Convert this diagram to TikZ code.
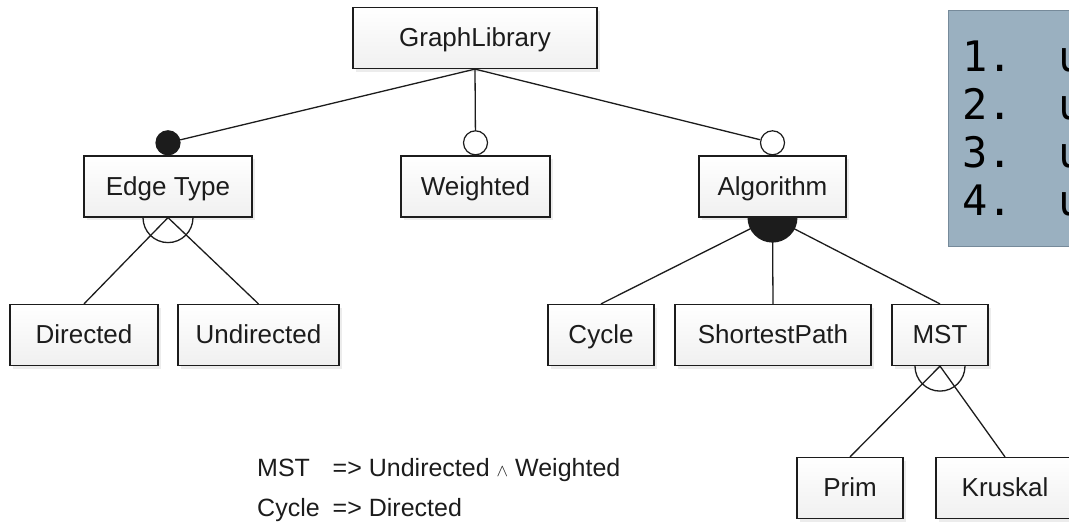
\documentclass[tikz,border=0pt]{standalone}
\usepackage{fontspec}
\setmainfont{Liberation Sans}
\newfontfamily\notefont{DejaVu Sans Mono}
\usepackage{tikz}
\usetikzlibrary{
  positioning,
  shadows
}
\definecolor{fmline}{RGB}{28,28,28}
\definecolor{notefill}{RGB}{154,176,192}
\definecolor{noteedge}{RGB}{118,138,154}
\tikzset{
  feature/.style={
    rectangle, draw=fmline, line width=1.2pt,
    top color=white, bottom color=gray!12,
    minimum height=61pt, inner sep=0pt,
    text height=17pt, text depth=0pt,
    font=\fontsize{26}{30}\selectfont, text=fmline,
    drop shadow={opacity=0.15, shadow xshift=3pt, shadow yshift=-3pt}
  },
  link/.style={line width=1.3pt, draw=fmline},
  mandatory/.style={
    circle, draw=fmline, line width=1.2pt, fill=fmline,
    minimum size=24pt, inner sep=0pt
  },
  optional/.style={mandatory, fill=white}
}

\begin{document}
\begin{tikzpicture}[
  x=1pt, y=-1pt,
  notebox/.style={rectangle, draw=noteedge, line width=1pt, fill=notefill,
                  minimum height=236pt, text width=140pt, inner xsep=14pt,
                  align=left, font=\notefont\fontsize{42}{48}\selectfont},
  rule/.style={font=\fontsize{25}{40}\selectfont, text=fmline, inner sep=0pt}
]
\useasboundingbox (0,0) rectangle (1069,522);
\clip (0,0) rectangle (1069,522);

% features
\node[feature, minimum width=244pt] (graphlib)  at (475,38)    {GraphLibrary};
\node[feature, minimum width=168pt] (edgetype)  at (168,186.5) {Edge Type};
\node[feature, minimum width=149pt] (weighted)  at (475.5,186.5) {Weighted};
\node[feature, minimum width=147pt] (algorithm) at (772.5,186.5) {Algorithm};
\node[feature, minimum width=148pt] (directed)   at (84,335)    {Directed};
\node[feature, minimum width=161pt] (undirected) at (258.5,335) {Undirected};
\node[feature, minimum width=106pt] (cycle)      at (601,335)   {Cycle};
\node[feature, minimum width=196pt] (shortest)   at (773,335)   {ShortestPath};
\node[feature, minimum width=96pt]  (mst)        at (940,335)   {MST};
\node[feature, minimum width=106pt] (prim)    at (850,488)  {Prim};
\node[feature, minimum width=138pt] (kruskal) at (1005,488) {Kruskal};

% mandatory / optional marks
\node[mandatory, above=0pt of edgetype]  (edgetypemark)  {};
\node[optional,  above=0pt of weighted]  (weightedmark)  {};
\node[optional,  above=0pt of algorithm] (algorithmmark) {};

\draw[link] (graphlib.south) -- (edgetypemark);
\draw[link] (graphlib.south) -- (weightedmark);
\draw[link] (graphlib.south) -- (algorithmmark);

% alternative groups
\draw[link] (directed.north) -- (edgetype.south) -- (undirected.north);
\draw[link] (edgetype.south) ++(-25pt,0) arc[start angle=180, end angle=360, radius=25pt];
\draw[link] (prim.north) -- (mst.south) -- (kruskal.north);
\draw[link] (mst.south) ++(-25pt,0) arc[start angle=180, end angle=360, radius=25pt];

% or group
\draw[link] (algorithm.south) -- (cycle.north);
\draw[link] (algorithm.south) -- (shortest.north);
\draw[link] (algorithm.south) -- (mst.north);
\fill[fmline] (algorithm.south) ++(-25pt,0) arc[start angle=180, end angle=360, radius=25pt] -- cycle;

% cross-tree constraints
\node[rule, anchor=west] (constraints) at (257,488) {%
  \begin{tabular}{@{}l@{\hspace{13pt}}l@{}}
    MST   & => Undirected {\fontsize{16}{16}\selectfont$\wedge$} Weighted\\
    Cycle & => Directed
  \end{tabular}};

% note
\node[notebox, anchor=north west] (notes) at (948,10)
  {\makebox[96pt][l]{1.}u\\\makebox[96pt][l]{2.}u\\
   \makebox[96pt][l]{3.}u\\\makebox[96pt][l]{4.}u};
\end{tikzpicture}
\end{document}
